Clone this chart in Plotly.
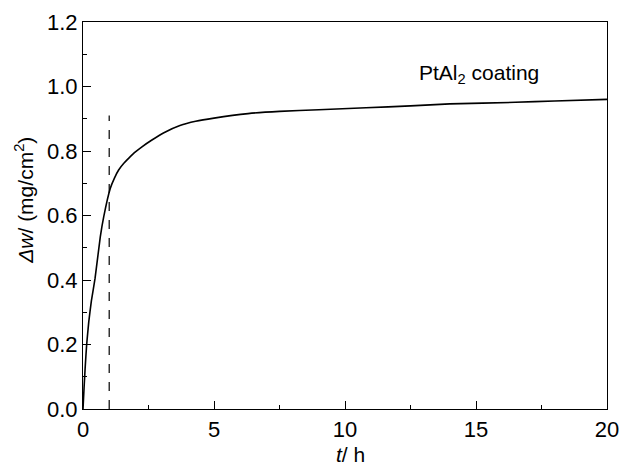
import plotly.graph_objects as go

# Mass gain curve
t_h = [0, 0.04, 0.08, 0.14, 0.22, 0.32, 0.46, 0.66, 0.79, 1.04, 1.2, 1.36, 1.55, 1.74, 2.0, 2.25, 2.63,
       3.07, 3.7, 4.3, 5.0, 6.3, 7.5, 9.0, 10.8, 12.5, 14.0, 16.5, 18.0, 20.0]
dw = [0, 0.065, 0.125, 0.2, 0.27, 0.335, 0.405, 0.534, 0.596, 0.684, 0.716, 0.741, 0.761, 0.777, 0.797,
      0.813, 0.834, 0.856, 0.879, 0.892, 0.902, 0.916, 0.923, 0.928, 0.934, 0.940, 0.946, 0.951, 0.955, 0.960]

# Dashed marker line
dash_t = [1, 1]
dash_y = [0, 0.91]

label_text = "PtAl<sub>2</sub> coating"
label_pos = (15.1, 1.04)

x_ticks = [0, 5, 10, 15, 20]
y_ticks = [0.0, 0.2, 0.4, 0.6, 0.8, 1.0, 1.2]
y_ticklabels = ["0.0", "0.2", "0.4", "0.6", "0.8", "1.0", "1.2"]

x_title = "<i>t</i>/ h"
y_title = "<i>Δw</i>/ (mg/cm<sup>2</sup>)"

FONT = "Liberation Sans, Arial, sans-serif"

fig = go.Figure()
fig.add_trace(go.Scatter(x=t_h, y=dw, mode="lines", line=dict(color="black", width=1.6, shape="spline", smoothing=0.4),
                         showlegend=False, hoverinfo="skip"))
fig.add_trace(go.Scatter(x=dash_t, y=dash_y, mode="lines", line=dict(color="black", width=1.2, dash="dash"),
                         showlegend=False, hoverinfo="skip"))

fig.add_annotation(x=label_pos[0], y=label_pos[1], text=label_text, showarrow=False,
                   font=dict(family=FONT, size=21, color="black"), xanchor="center", yanchor="middle")

# axis titles as annotations for precise placement
fig.add_annotation(xref="paper", yref="paper", x=0.51, y=-0.118, text=x_title, showarrow=False,
                   font=dict(family=FONT, size=21, color="black"), xanchor="center", yanchor="middle")
fig.add_annotation(xref="paper", yref="paper", x=-0.113, y=0.54, text=y_title, showarrow=False, textangle=-90,
                   font=dict(family=FONT, size=21, color="black"), xanchor="center", yanchor="middle")

axis_common = dict(showline=True, linecolor="black", linewidth=1.2, mirror=True, ticks="inside",
                   ticklen=8, tickwidth=1.2, tickcolor="black", showgrid=False, zeroline=False,
                   automargin=False, tickfont=dict(family=FONT, size=22, color="black"))

fig.update_xaxes(range=[0, 20], tickvals=x_ticks, ticktext=[str(v) for v in x_ticks],
                 minor=dict(dtick=2.5, ticks="inside", ticklen=4, tickcolor="black", tickwidth=1.2, showgrid=False),
                 **axis_common)
fig.update_yaxes(range=[0, 1.2], tickvals=y_ticks, ticktext=y_ticklabels,
                 minor=dict(dtick=0.1, ticks="inside", ticklen=4, tickcolor="black", tickwidth=1.2, showgrid=False),
                 **axis_common)

fig.update_layout(width=622, height=465, margin=dict(l=83, r=15, t=22, b=56),
                  plot_bgcolor="white", paper_bgcolor="white",
                  font=dict(family=FONT, color="black"))

fig.write_html("out.html", config={"displayModeBar": False},
               post_script="document.body.style.margin='0px';document.body.style.overflow='hidden';")
